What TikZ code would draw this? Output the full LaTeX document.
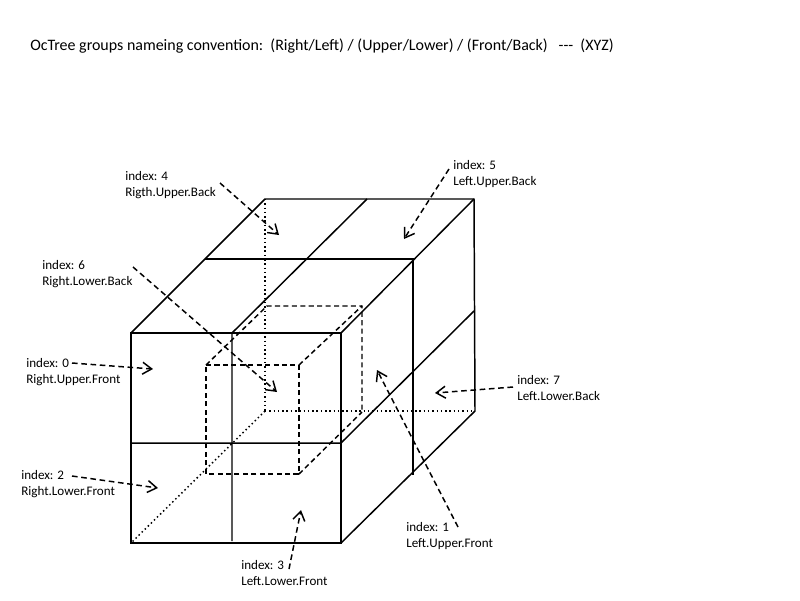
\documentclass[tikz,border=0pt]{standalone}
\usepackage{fontspec}
\setmainfont{Carlito}
\usetikzlibrary{arrows.meta}
\tikzset{
    edgeline/.style={line width=1.05pt},
    hiddenline/.style={line width=1.05pt, dotted},
    innerline/.style={line width=1.05pt, dash pattern=on 3.6pt off 2.4pt},
    pointer/.style={-{Straight Barb[length=6.5pt,width=8.5pt]}, line width=1.05pt, dash pattern=on 4pt off 2.6pt},
    indexlabel/.style={align=left, anchor=west, inner sep=0pt, font=\fontsize{9.3}{11.4}\selectfont}
}
\begin{document}
\begin{tikzpicture}[x=0.025cm,y=-0.025cm]
    \useasboundingbox (0,0) rectangle (800,600);

    % Title
    \node[anchor=west, inner sep=0pt, font=\fontsize{11.35}{13}\selectfont] (title) at (30,46) {OcTree groups nameing convention:\ \ (Right/Left) / (Upper/Lower) / (Front/Back)\ \ \ {-}{-}{-}\ \ (XYZ)};

    % Outer cube corners
    \coordinate (ftl) at (131,333);
    \coordinate (ftr) at (341,333);
    \coordinate (fbr) at (341,543);
    \coordinate (fbl) at (131,543);
    \coordinate (btl) at (265,199);
    \coordinate (btr) at (474,199);
    \coordinate (bbr) at (475,411);
    \coordinate (bbl) at (265,411);

    % Dividing planes
    \coordinate (topmidb) at (367,199);
    \coordinate (topmidf) at (232,333);
    \coordinate (botmidf) at (232,541);
    \coordinate (leftmid) at (205,259);
    \coordinate (rightmid) at (413,259);
    \coordinate (rightlow) at (413,475);
    \coordinate (frontl) at (131,443);
    \coordinate (frontr) at (341,443);
    \coordinate (sideb) at (474,311);

    % Inner cube corners
    \coordinate (iftl) at (206,365);
    \coordinate (iftr) at (299,365);
    \coordinate (ifbr) at (299,474);
    \coordinate (ifbl) at (206,474);
    \coordinate (ibtl) at (267,306);
    \coordinate (ibtr) at (362,306);
    \coordinate (ibbr) at (362,412);

    % Hidden edges
    \draw[hiddenline] (btl) -- (bbl);
    \draw[hiddenline] (bbl) -- (bbr);
    \draw[hiddenline] (bbl) -- (fbl);

    % Outer cube
    \draw[edgeline, line width=1.3pt] (ftl) -- (ftr) -- (fbr) -- (fbl) -- cycle;
    \draw[edgeline] (ftl) -- (btl) -- (btr) -- (bbr) -- (fbr);
    \draw[edgeline] (btr) -- (ftr);

    % Planes
    \draw[edgeline] (topmidb) -- (topmidf) -- (botmidf);
    \draw[edgeline] (leftmid) -- (rightmid) -- (rightlow);
    \draw[edgeline] (frontl) -- (frontr) -- (sideb);

    % Inner cube
    \draw[innerline] (iftl) -- (iftr) -- (ifbr) -- (ifbl) -- cycle;
    \draw[innerline] (iftl) -- (ibtl) -- (ibtr) -- (ibbr);
    \draw[innerline] (iftr) -- (ibtr);
    \draw[innerline] (ifbr) -- (ibbr);

    % Labels
    \node[indexlabel] (idx4) at (125,185) {index: 4\\Rigth.Upper.Back};
    \node[indexlabel] (idx5) at (453,174) {index: 5\\Left.Upper.Back};
    \node[indexlabel] (idx6) at (42,274) {index: 6\\Right.Lower.Back};
    \node[indexlabel] (idx0) at (26,372) {index: 0\\Right.Upper.Front};
    \node[indexlabel] (idx2) at (21,484) {index: 2\\Right.Lower.Front};
    \node[indexlabel] (idx3) at (241,573) {index: 3\\Left.Lower.Front};
    \node[indexlabel] (idx1) at (406,536) {index: 1\\Left.Upper.Front};
    \node[indexlabel] (idx7) at (517,388) {index: 7\\Left.Lower.Back};

    % Pointer ends
    \coordinate (from4) at (220,183);
    \coordinate (to4) at (279,235);
    \coordinate (from5) at (449,169);
    \coordinate (to5) at (404,239);
    \coordinate (from6) at (133,267);
    \coordinate (to6) at (277,392);
    \coordinate (from0) at (72,363);
    \coordinate (to0) at (153,369);
    \coordinate (from2) at (72,476);
    \coordinate (to2) at (158,488);
    \coordinate (from3) at (289,569);
    \coordinate (to3) at (301,510);
    \coordinate (from1) at (458,527);
    \coordinate (to1) at (377,370);
    \coordinate (from7) at (513,387);
    \coordinate (to7) at (435,393);

    \foreach \i in {0,...,7}
        \draw[pointer] (from\i) -- (to\i);
\end{tikzpicture}
\end{document}
